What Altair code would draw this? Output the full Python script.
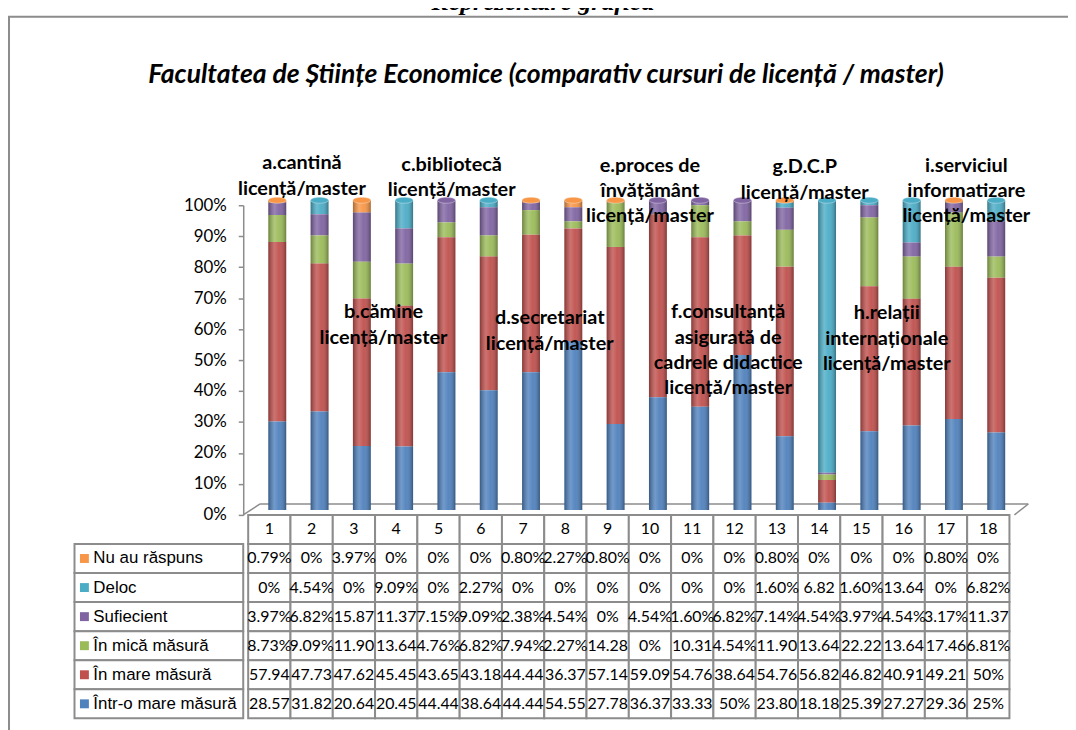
import altair as alt
import pandas as pd

# ---------------- data ----------------
categories = list(range(1, 19))
series = ["Nu au răspuns", "Deloc", "Sufiecient", "În mică măsură",
          "În mare măsură", "Într-o mare măsură"]

nu_au_raspuns = [0.0079, 0, 0.0397, 0, 0, 0, 0.0080, 0.0227, 0.0080,
                 0, 0, 0, 0.0080, 0, 0, 0, 0.0080, 0]
deloc = [0, 0.0454, 0, 0.0909, 0, 0.0227, 0, 0, 0,
         0, 0, 0, 0.0160, 6.82, 0.0160, 0.1364, 0, 0.0682]
suficient = [0.0397, 0.0682, 0.1587, 0.1137, 0.0715, 0.0909, 0.0238, 0.0454, 0,
             0.0454, 0.0160, 0.0682, 0.0714, 0.0454, 0.0397, 0.0454, 0.0317, 0.1137]
mica_masura = [0.0873, 0.0909, 0.1190, 0.1364, 0.0476, 0.0682, 0.0794, 0.0227, 0.1428,
               0, 0.1031, 0.0454, 0.1190, 0.1364, 0.2222, 0.1364, 0.1746, 0.0681]
mare_masura = [0.5794, 0.4773, 0.4762, 0.4545, 0.4365, 0.4318, 0.4444, 0.3637, 0.5714,
               0.5909, 0.5476, 0.3864, 0.5476, 0.5682, 0.4682, 0.4091, 0.4921, 0.50]
intr_o_mare_masura = [0.2857, 0.3182, 0.2064, 0.2045, 0.4444, 0.3864, 0.4444, 0.5455, 0.2778,
                      0.3637, 0.3333, 0.50, 0.2380, 0.1818, 0.2539, 0.2727, 0.2936, 0.25]
series_values = [nu_au_raspuns, deloc, suficient, mica_masura, mare_masura, intr_o_mare_masura]

ann_text = [
    "a.cantină\nlicență/master",
    "b.cămine\nlicență/master",
    "c.bibliotecă\nlicență/master",
    "d.secretariat\nlicență/master",
    "e.proces de\nînvățământ\nlicență/master",
    "f.consultanță\nasigurată de\ncadrele didactice\nlicență/master",
    "g.D.C.P\nlicență/master",
    "h.relații\ninternaționale\nlicență/master",
    "i.serviciul\ninformatizare\nlicență/master",
]
ann_x = [1.77, 3.70, 5.31, 7.63, 10.0, 11.85, 13.66, 15.60, 17.48]
ann_y = [1.135, 0.654, 1.131, 0.635, 1.128, 0.654, 1.122, 0.651, 1.128]

title_text = "Facultatea de Științe Economice (comparativ cursuri de licență / master)"
heading_text = "Reprezentare grafică"

# ---------------- styles ----------------
colors = ["#F79646", "#4BACC6", "#8064A2", "#9BBB59", "#C0504D", "#4F81BD"]
GRID = "#8c8c8c"
W, H, BAR_H = 777, 517, 312


def cell_label(v):
    if v > 1:
        return f"{v:g}"
    p = round(v * 100, 2)
    s = f"{p:.0f}%" if p == int(p) else f"{p:.2f}%"
    return s[:-1] if len(s) > 5 else s


recs = []
for si, (s, vals) in enumerate(zip(series, series_values)):
    for c, v in zip(categories, vals):
        recs.append({"cat": c, "series": s, "v": v, "ord": len(series) - 1 - si,
                     "label": cell_label(v)})
df = pd.DataFrame(recs)

hdr = pd.DataFrame({"cat": categories, "row": "hdr", "label": [str(c) for c in categories]})
tbl = pd.concat([hdr, df.rename(columns={"series": "row"})[["cat", "row", "label"]]],
                ignore_index=True)
leg = pd.DataFrame({"row": series})
ann = pd.DataFrame({"text": ann_text, "x": ann_x, "y": ann_y})
one = alt.Data(values=[{}])

xs = alt.Scale(domain=[0.5, 18.5], nice=False, zero=False)
ys = alt.Scale(domain=[0, 1], range=[BAR_H, 0], nice=False, zero=False)
cs = alt.Scale(domain=series, range=colors)
ts = alt.Scale(domain=["hdr"] + series, range=[BAR_H, H], paddingInner=0, paddingOuter=0)

y_axis = alt.Axis(
    values=[i / 10 for i in range(11)], format=".0%", grid=False, title=None,
    domainColor=GRID, domainWidth=1.5, tickColor=GRID, tickSize=5, tickWidth=1.5,
    labelPadding=12, labelFont="Lato", labelFontSize=17, labelColor="black")

# ---------------- decoration ----------------
border = alt.Chart(one).mark_rect(fillOpacity=0, stroke=GRID, strokeWidth=2).encode(
    x=alt.value(-236), x2=alt.value(845), y=alt.value(-190), y2=alt.value(545))
heading = alt.Chart(one).mark_text(
    text=heading_text, font="Liberation Serif", fontSize=26, fontWeight="bold",
    fontStyle="italic", align="center", baseline="alphabetic", color="black"
).encode(x=alt.value(302), y=alt.value(-197))
title = alt.Chart(one).mark_text(
    text=title_text, font="Lato", fontSize=26.7, fontWeight="bold", fontStyle="italic",
    align="center", baseline="middle", color="black"
).encode(x=alt.value(305), y=alt.value(-131))

floor_back = alt.Chart(one).mark_rule(color=GRID, strokeWidth=1.5).encode(
    x=alt.value(17), x2=alt.value(791), y=alt.value(301), y2=alt.value(301))
floor_left = alt.Chart(one).mark_rule(color=GRID, strokeWidth=1.5).encode(
    x=alt.value(0), x2=alt.value(17), y=alt.value(312), y2=alt.value(301))
floor_right = alt.Chart(one).mark_rule(color=GRID, strokeWidth=1.5).encode(
    x=alt.value(777), x2=alt.value(791), y=alt.value(312), y2=alt.value(301))

# ---------------- bars ----------------
stacked = alt.Chart(df).transform_stack(
    stack="v", groupby=["cat"], as_=["y0", "y1"], offset="normalize",
    sort=[alt.SortField("ord", order="ascending")])

bars = stacked.mark_bar(size=18, xOffset=8, yOffset=-5, y2Offset=-5).encode(
    x=alt.X("cat:Q", scale=xs, axis=None),
    y=alt.Y("y0:Q", scale=ys, axis=y_axis),
    y2="y1:Q",
    color=alt.Color("series:N", scale=cs, legend=None),
)

shade_fill = alt.Gradient(
    gradient="linear", x1=0, x2=1, y1=0, y2=0,
    stops=[alt.GradientStop(color="rgba(0,0,0,0.30)", offset=0),
           alt.GradientStop(color="rgba(255,255,255,0.20)", offset=0.35),
           alt.GradientStop(color="rgba(255,255,255,0.05)", offset=0.6),
           alt.GradientStop(color="rgba(0,0,0,0.32)", offset=1)])
shade = stacked.mark_bar(size=18, xOffset=8, yOffset=-5, y2Offset=-5, fill=shade_fill).encode(
    x=alt.X("cat:Q", scale=xs, axis=None),
    y=alt.Y("y0:Q", scale=ys, axis=y_axis),
    y2="y1:Q",
    detail="series:N",
)

ELLIPSE = "M -1 0 A 1 0.33 0 1 0 1 0 A 1 0.33 0 1 0 -1 0 Z"
caps = stacked.transform_filter("datum.v > 0").transform_joinaggregate(
    top="max(ord)", groupby=["cat"]).transform_filter("datum.ord == datum.top").mark_point(
    shape=ELLIPSE, size=324, filled=True, opacity=1, xOffset=8, yOffset=-5,
    stroke="white", strokeOpacity=0.35, strokeWidth=1).encode(
    x=alt.X("cat:Q", scale=xs, axis=None),
    y=alt.Y("y1:Q", scale=ys, axis=y_axis),
    color=alt.Color("series:N", scale=cs, legend=None),
)

annotations = alt.Chart(ann).mark_text(
    font="Lato", fontSize=20, fontWeight="bold", lineBreak="\n", lineHeight=25.5,
    baseline="middle", align="center", color="black").encode(
    x=alt.X("x:Q", scale=xs, axis=None),
    y=alt.Y("y:Q", scale=ys, axis=y_axis),
    text="text:N",
)

plot_layer = alt.layer(border, heading, title, floor_back, floor_left, floor_right,
                       bars, shade, caps, annotations)

# ---------------- data table ----------------
cells = alt.Chart(tbl).transform_calculate(
    x0="datum.cat - 0.5", x1="datum.cat + 0.5").mark_rect(
    fill="white", stroke=GRID, strokeWidth=2).encode(
    x=alt.X("x0:Q", scale=xs, axis=None), x2="x1:Q",
    y=alt.Y("row:N", scale=ts, axis=None))
leg_cells = alt.Chart(leg).mark_rect(fill="white", stroke=GRID, strokeWidth=2).encode(
    x=alt.value(-170), x2=alt.value(0),
    y=alt.Y("row:N", scale=ts, axis=None))
cell_text = alt.Chart(tbl).mark_text(font="Lato", fontSize=16, color="black").encode(
    x=alt.X("cat:Q", scale=xs, axis=None),
    y=alt.Y("row:N", scale=ts, axis=None),
    text="label:N")
squares = alt.Chart(leg).mark_square(size=81, opacity=1).encode(
    x=alt.value(-160),
    y=alt.Y("row:N", scale=ts, axis=None),
    color=alt.Color("row:N", scale=cs, legend=None))
leg_text = alt.Chart(leg).mark_text(font="Liberation Sans", fontSize=17, align="left",
                                    color="black").encode(
    x=alt.value(-151),
    y=alt.Y("row:N", scale=ts, axis=None),
    text="row:N")

table_layer = alt.layer(cells, leg_cells, cell_text, squares, leg_text)

chart = alt.layer(plot_layer, table_layer).resolve_scale(y="independent").properties(
    width=W, height=H,
    autosize=alt.AutoSizeParams(type="none"),
    padding={"left": 237, "top": 196, "right": 54, "bottom": 9},
    background="white",
).configure_view(stroke=None)

chart.save("out.html", embed_options={"renderer": "svg", "actions": False})
